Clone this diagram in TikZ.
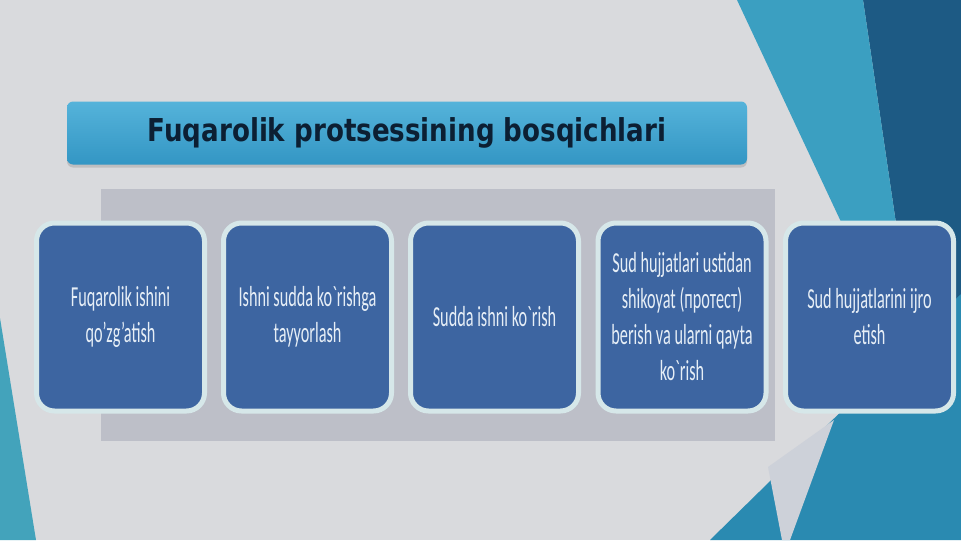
\documentclass[tikz,border=0pt]{standalone}
\usepackage{fontspec}
\usetikzlibrary{shadows}
\newfontfamily\titlefont[FakeStretch=0.83]{DejaVu Sans Bold}
\newfontfamily\boxfont[FakeStretch=0.56,Ligatures=TeXOff]{Carlito}
\definecolor{bg}{HTML}{D9DADD}
\definecolor{band}{HTML}{BDBFC8}
\definecolor{teal}{HTML}{3B9FC1}
\definecolor{teallow}{HTML}{2A8AB1}
\definecolor{navy}{HTML}{1D5A84}
\definecolor{sliver}{HTML}{CDD1D9}
\definecolor{tealleft}{HTML}{43A3BB}
\definecolor{titletop}{HTML}{55B3DA}
\definecolor{titlebot}{HTML}{3396C4}
\definecolor{titletext}{HTML}{0C1F33}
\definecolor{boxblue}{HTML}{3D65A1}
\definecolor{boxedge}{HTML}{D6E7E9}
\definecolor{boxtext}{HTML}{E6EEF6}
\begin{document}
\begin{tikzpicture}[x=0.5pt,y=-0.5pt,
  titlebar/.style={top color=titletop,bottom color=titlebot,rounded corners=3pt,
    minimum width=340pt,minimum height=31.5pt,drop shadow={opacity=0.3,shadow xshift=0pt,shadow yshift=-1.5pt},
    text=titletext,font=\titlefont\fontsize{15.75}{18}\selectfont},
  stage/.style={draw=boxedge,line width=2.5pt,fill=boxblue,rounded corners=9pt,
    minimum width=84pt,minimum height=94pt,align=center,text=boxtext,
    font=\boxfont\fontsize{14.5}{18}\selectfont}]
\useasboundingbox (0,0) rectangle (961,540);
\fill[bg] (0,0) rectangle (961,540);
\fill[navy] (863,0) -- (961,0) -- (961,300) -- (915,352) -- cycle;
\fill[teal] (737,0) -- (863,0) -- (915,352) -- (902,352) -- cycle;
\fill[teallow] (710,540) -- (961,294) -- (961,540) -- cycle;
\fill[sliver] (834,420) -- (768,467) -- (782,540) -- (790,540) -- cycle;
\fill[tealleft] (0,318) -- (36,540) -- (0,540) -- cycle;
\fill[band] (101,189) rectangle (775,441);

\node[titlebar] (title) at (407,133) {Fuqarolik protsessining bosqichlari};

\node[stage] (s1) at (120.5,317) {Fuqarolik ishini\\qo’zg’atish};
\node[stage] (s2) at (307.5,317) {Ishni sudda ko`rishga\\tayyorlash};
\node[stage] (s3) at (494.5,317) {Sudda ishni ko`rish};
\node[stage] (s4) at (682,317) {Sud hujjatlari ustidan\\shikoyat (протест)\\berish va ularni qayta\\ko`rish};
\node[stage] (s5) at (869.5,317) {Sud hujjatlarini ijro\\etish};
\end{tikzpicture}
\end{document}
